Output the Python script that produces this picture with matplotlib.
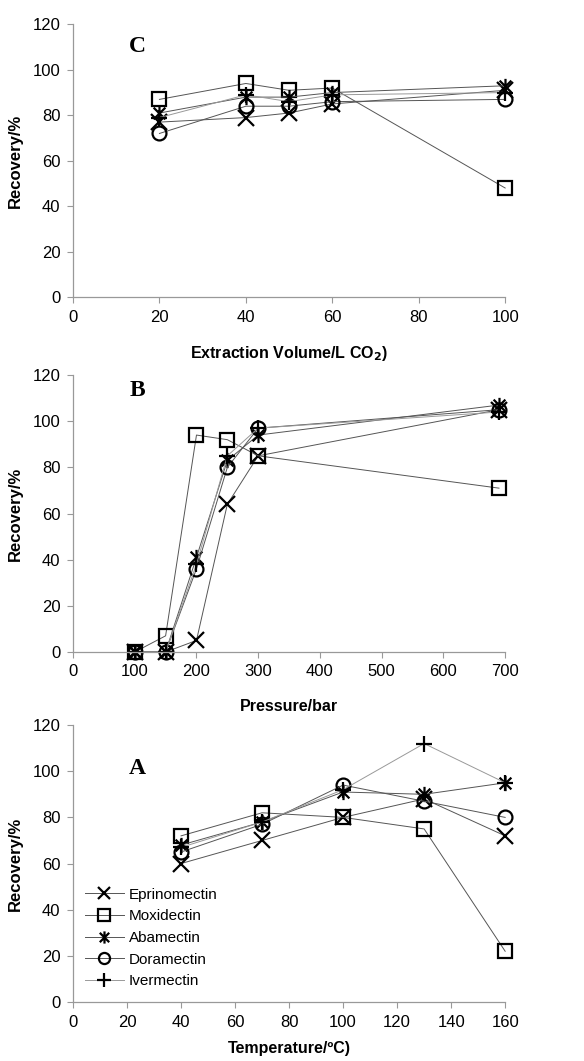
import numpy as np
import matplotlib.pyplot as plt
from matplotlib.path import Path

plt.rcParams['font.family'] = ['Liberation Sans', 'DejaVu Sans']

drugs = ["Eprinomectin", "Moxidectin", "Abamectin", "Doramectin", "Ivermectin"]

# panel C - extraction volume
vol_x = [20, 40, 50, 60, 100]
vol_eprino = [77, 79, 81, 85, 91]
vol_moxi = [87, 94, 91, 92, 48]
vol_abam = [81, 88, 88, 90, 93]
vol_doram = [72, 84, 84, 86, 87]
vol_iver = [79, 89, 86, 89, 90]

# panel B - pressure
pres_x = [100, 150, 200, 250, 300, 690]
pres_eprino = [0, 0, 5, 64, 85, 105]
pres_moxi = [0, 7, 94, 92, 85, 71]
pres_abam = [0, 0, 41, 83, 94, 107]
pres_doram = [0, 0, 36, 80, 97, 105]
pres_iver = [0, 0, 38, 85, 97, 104]

# panel A - temperature
temp_x = [40, 70, 100, 130, 160]
temp_eprino = [60, 70, 80, 88, 72]
temp_moxi = [72, 82, 80, 75, 22]
temp_abam = [68, 78, 91, 90, 95]
temp_doram = [65, 77, 94, 87, 80]
temp_iver = [67, 78, 92, 112, 95]

# excel style asterisk: X plus a vertical bar
star = Path([(-1, -1), (1, 1), (-1, 1), (1, -1), (0, -1.3), (0, 1.3)],
            [Path.MOVETO, Path.LINETO, Path.MOVETO, Path.LINETO, Path.MOVETO, Path.LINETO])
markers = ["x", "s", star, "o", "+"]
msizes = [11, 10, 11, 10, 12]
lcolors = ["#555555", "#555555", "#555555", "#555555", "#999999"]

fig = plt.figure(figsize=(5.84, 10.61), dpi=100)
left, width = 0.125, 0.74
ax_c = fig.add_axes([left, 0.720, width, 0.257])
ax_b = fig.add_axes([left, 0.3855, width, 0.261])
ax_a = fig.add_axes([left, 0.0556, width, 0.261])

panels = [
    (ax_c, vol_x, [vol_eprino, vol_moxi, vol_abam, vol_doram, vol_iver], 100, 20,
     "Extraction Volume/L CO$_\\mathbf{2}$)", "C", 0.92, 14),
    (ax_b, pres_x, [pres_eprino, pres_moxi, pres_abam, pres_doram, pres_iver], 700, 100,
     "Pressure/bar", "B", 0.946, 14),
    (ax_a, temp_x, [temp_eprino, temp_moxi, temp_abam, temp_doram, temp_iver], 160, 20,
     "Temperature/ºC)", "A", 0.845, 8),
]

for ax, xs, series, xmax, xstep, xlab, letter, ly, pad in panels:
    for i in range(len(drugs)):
        ax.plot(xs, series[i], color=lcolors[i], lw=0.7, marker=markers[i],
                ms=msizes[i], mec="black", mfc="none", mew=1.6, label=drugs[i],
                clip_on=False)
    ax.set_xlim(0, xmax)
    ax.set_ylim(0, 120)
    ax.set_xticks(np.arange(0, xmax + 1, xstep))
    ax.set_yticks(np.arange(0, 121, 20))
    for s in ["top", "right"]:
        ax.spines[s].set_visible(False)
    for s in ["left", "bottom"]:
        ax.spines[s].set_color("#999999")
        ax.spines[s].set_linewidth(0.9)
    ax.tick_params(direction="out", length=4, color="#999999", labelsize=12, pad=5)
    ax.set_ylabel("Recovery/%", fontsize=12, fontweight="bold", labelpad=7)
    ax.set_xlabel(xlab, fontsize=11.5, fontweight="bold", labelpad=pad)
    ax.text(0.13, ly, letter, transform=ax.transAxes, fontsize=17, fontweight="bold",
            family="Liberation Serif", va="center", ha="left")

ax_a.legend(loc="lower left", bbox_to_anchor=(-0.005, 0.0), frameon=False, fontsize=11,
            handlelength=2.6, labelspacing=0.5, handletextpad=0.3, markerscale=0.8)

fig.savefig("out.png", dpi=100, facecolor="white")
